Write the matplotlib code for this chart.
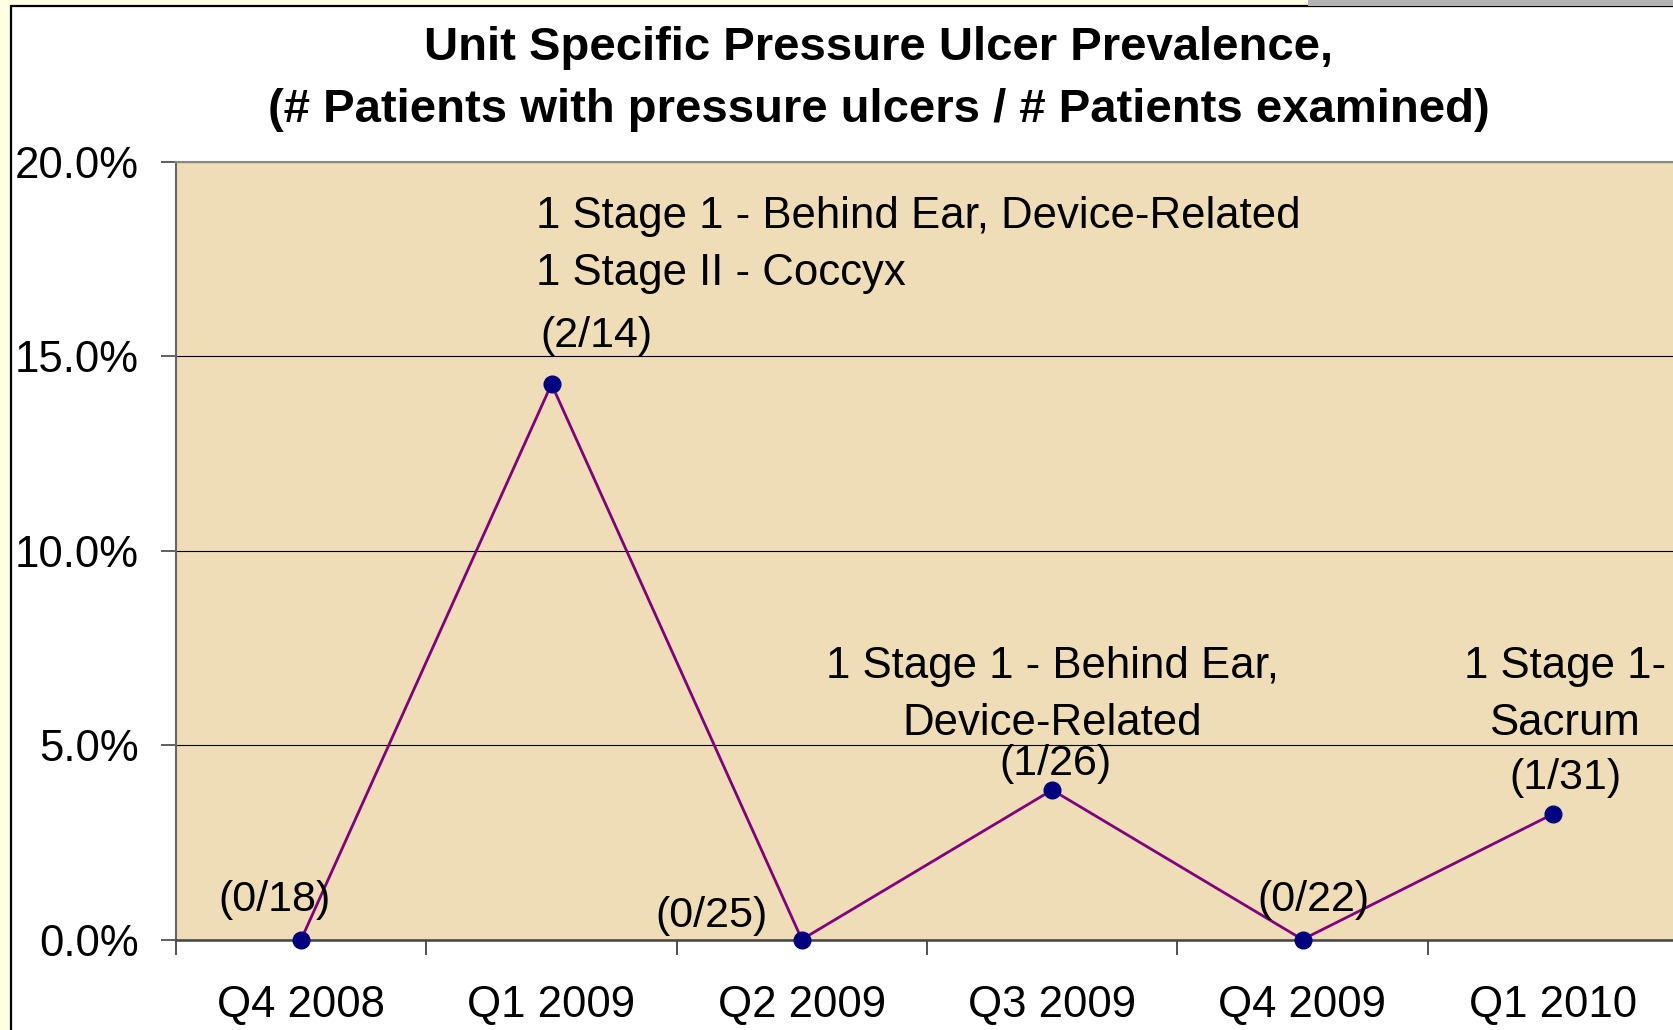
import matplotlib
matplotlib.use("Agg")
import matplotlib.pyplot as plt
from matplotlib.patches import Rectangle
from matplotlib.ticker import FixedLocator, PercentFormatter

plt.rcParams['font.family'] = ['Liberation Sans', 'DejaVu Sans']

# ---- data ----
quarters = ["Q4 2008", "Q1 2009", "Q2 2009", "Q3 2009", "Q4 2009", "Q1 2010"]
with_ulcers = [0, 2, 0, 1, 0, 1]
examined = [18, 14, 25, 26, 22, 31]
prevalence = [100.0 * a / b for a, b in zip(with_ulcers, examined)]
count_labels = [f"({a}/{b})" for a, b in zip(with_ulcers, examined)]
yticks = [0, 5, 10, 15, 20]
title_lines = ["Unit Specific Pressure Ulcer Prevalence,",
               "(# Patients with pressure ulcers / # Patients examined)"]
notes = {
    1: "1 Stage 1 - Behind Ear, Device-Related\n1 Stage II - Coccyx",
    3: "1 Stage 1 - Behind Ear,\nDevice-Related",
    5: "1 Stage 1-\nSacrum",
}

W, H = 1674, 1030
fig = plt.figure(figsize=(W / 100, H / 100), dpi=100)
fig.patch.set_facecolor('#FFFFE4')

# white chart frame
fig.patches.append(Rectangle((11 / W, -0.05), 1.2, (H - 6) / H + 0.05,
                             transform=fig.transFigure, facecolor='white',
                             edgecolor='black', linewidth=1.6, zorder=-2))
fig.patches.append(Rectangle((1308 / W, (H - 5.5) / H), 1.0, 0.02,
                             transform=fig.transFigure, facecolor='#B2B2B2',
                             edgecolor='none', zorder=-1))

left, bottom = 176 / W, (H - 939.5) / H
top = (H - 162) / H
right = 1678 / W
ax = fig.add_axes([left, bottom, right - left, top - bottom])
ax.set_zorder(5)
ax.set_facecolor('#EEDDB6')

x = list(range(len(quarters)))
ax.plot(x, prevalence, color='#800080', linewidth=2.0, zorder=3, clip_on=False)
ax.plot(x, prevalence, linestyle='none', marker='o', markersize=12,
        color='#000080', zorder=4, clip_on=False)

ax.set_xlim(-0.5, len(quarters) - 0.5)
ax.set_ylim(0, 20)

ax.yaxis.set_major_locator(FixedLocator(yticks))
ax.yaxis.set_major_formatter(PercentFormatter(decimals=1))
ax.set_xticks(x)
ax.set_xticklabels(quarters)
ax.set_xticks([i - 0.5 for i in range(len(quarters) + 1)], minor=True)

ax.tick_params(axis='y', which='major', length=11, width=1.2, color='#444444',
               labelsize=31.5, pad=16)
ax.tick_params(axis='x', which='major', length=0, labelsize=31.5, pad=33)
ax.tick_params(axis='x', which='minor', length=11, width=1.2, color='#333333')

ax.grid(axis='y', color='black', linewidth=0.8)
ax.set_axisbelow(True)
for s in ['right']:
    ax.spines[s].set_visible(False)
ax.spines['top'].set_color('#888888')
ax.spines['top'].set_linewidth(1.5)
ax.spines['left'].set_color('#666666')
ax.spines['left'].set_linewidth(1.5)
ax.spines['bottom'].set_color('#444444')
ax.spines['bottom'].set_linewidth(1.8)

# count labels
count_offsets = [(-27, 40), (45, 48), (-90, 24), (3, 26), (11, 40), (13, 36)]
for i, (lab, off) in enumerate(zip(count_labels, count_offsets)):
    ax.annotate(lab, (i, prevalence[i]), xytext=off, textcoords='offset pixels',
                ha='center', va='center', fontsize=31, zorder=5,
                annotation_clip=False)

# notes
note_pos = {1: (-15, 139, 'left'), 3: (0, 95, 'center'), 5: (12, 119, 'center')}
for i, txt in notes.items():
    dx, dy, ha = note_pos[i]
    ax.annotate(txt, (i, prevalence[i]), xytext=(dx, dy), textcoords='offset pixels',
                ha=ha, va='center', fontsize=31.5, linespacing=1.5, zorder=5,
                annotation_clip=False)

fig.text(879 / W, 1 - 48 / H, title_lines[0], ha='center', va='center',
         fontsize=34, fontweight='bold')
fig.text(879 / W, 1 - 110 / H, title_lines[1], ha='center', va='center',
         fontsize=34, fontweight='bold')

fig.savefig('out.png', dpi=100, facecolor=fig.get_facecolor())
